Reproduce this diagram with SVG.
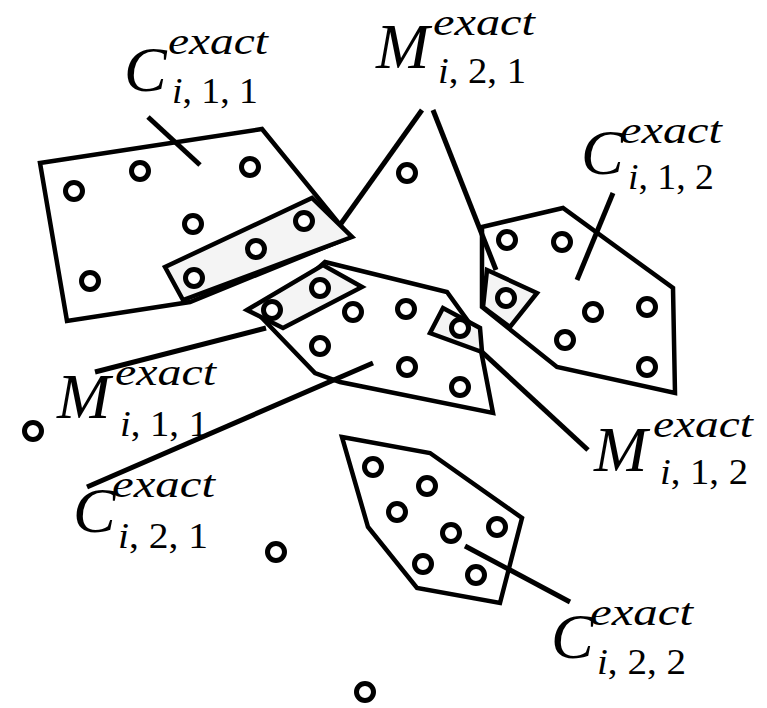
<svg xmlns="http://www.w3.org/2000/svg" width="767" height="708" viewBox="0 0 767 708">
<style>
.poly{fill:none;stroke:#000;stroke-width:4.5;stroke-linejoin:miter}
.gray{fill:#f4f4f4;stroke:#000;stroke-width:4.5}
.ln{stroke:#000;stroke-width:5;fill:none}
.dot{fill:#fff;stroke:#000;stroke-width:5}
.big{font-family:"Liberation Serif",serif;font-style:italic;font-size:64px;fill:#000}
.sup{font-family:"Liberation Serif",serif;font-style:italic;font-size:38px;fill:#000}
.sub{font-family:"Liberation Serif",serif;font-size:35px;fill:#000}
.it{font-style:italic}
</style>
<rect width="767" height="708" fill="#fff"/>
<g id="C111">
<polygon class="poly" points="40,163 262,129 350,237 190,302 67,321"/>
</g>
<g id="M211-rect">
<polygon class="gray" points="165,267 183,300 352,237 312,198"/>
</g>
<g id="C112">
<polygon class="poly" points="482,227 563,208 673,288 675,393 557,367 482,307"/>
<polygon class="gray" points="487,270 537,293 510,327 483,307"/>
</g>
<g id="Cmid">
<polygon class="poly" points="325,262 447,292 478,335 493,413 340,382 315,373 262,318"/>
<polygon class="gray" points="247,310 323,265 362,287 283,328"/>
<polygon class="gray" points="430,333 443,308 480,328 482,352"/>
</g>
<g id="C222">
<polygon class="poly" points="342,437 430,453 522,518 500,603 417,588 368,527"/>
</g>
<g id="connectors">
<line class="ln" x1="148" y1="117" x2="200" y2="165"/>
<line class="ln" x1="422" y1="110" x2="340" y2="225"/>
<line class="ln" x1="433" y1="110" x2="496" y2="270"/>
<line class="ln" x1="613" y1="193" x2="577" y2="280"/>
<line class="ln" x1="95" y1="372" x2="266" y2="328"/>
<line class="ln" x1="87" y1="487" x2="373" y2="363"/>
<line class="ln" x1="482" y1="352" x2="588" y2="450"/>
<line class="ln" x1="465" y1="546" x2="570" y2="602"/>
</g>
<g id="dots">
<circle class="dot" cx="74" cy="191" r="8.5"/>
<circle class="dot" cx="140" cy="171" r="8.5"/>
<circle class="dot" cx="250" cy="167" r="8.5"/>
<circle class="dot" cx="193" cy="224" r="8.5"/>
<circle class="dot" cx="90" cy="281" r="8.5"/>
<circle class="dot" cx="304" cy="221" r="8.5"/>
<circle class="dot" cx="256" cy="249" r="8.5"/>
<circle class="dot" cx="194" cy="278" r="8.5"/>
<circle class="dot" cx="407" cy="173" r="8.5"/>
<circle class="dot" cx="507" cy="240" r="8.5"/>
<circle class="dot" cx="562" cy="242" r="8.5"/>
<circle class="dot" cx="506" cy="298" r="8.5"/>
<circle class="dot" cx="593" cy="312" r="8.5"/>
<circle class="dot" cx="647" cy="307" r="8.5"/>
<circle class="dot" cx="565" cy="340" r="8.5"/>
<circle class="dot" cx="647" cy="367" r="8.5"/>
<circle class="dot" cx="320" cy="288" r="8.5"/>
<circle class="dot" cx="272" cy="310" r="8.5"/>
<circle class="dot" cx="353" cy="312" r="8.5"/>
<circle class="dot" cx="406" cy="309" r="8.5"/>
<circle class="dot" cx="320" cy="346" r="8.5"/>
<circle class="dot" cx="407" cy="367" r="8.5"/>
<circle class="dot" cx="460" cy="328" r="8.5"/>
<circle class="dot" cx="460" cy="387" r="8.5"/>
<circle class="dot" cx="373" cy="467" r="8.5"/>
<circle class="dot" cx="427" cy="486" r="8.5"/>
<circle class="dot" cx="397" cy="512" r="8.5"/>
<circle class="dot" cx="451" cy="533" r="8.5"/>
<circle class="dot" cx="497" cy="527" r="8.5"/>
<circle class="dot" cx="423" cy="564" r="8.5"/>
<circle class="dot" cx="476" cy="575" r="8.5"/>
<circle class="dot" cx="33" cy="431" r="8.5"/>
<circle class="dot" cx="276" cy="552" r="8.5"/>
<circle class="dot" cx="365" cy="692" r="8.5"/>
</g>
<g id="label-C111">
<text class="big" x="124" y="91">C</text>
<text class="sup" x="168" y="54" textLength="100" lengthAdjust="spacingAndGlyphs">exact</text>
<text class="sub" x="172" y="103" textLength="86" lengthAdjust="spacingAndGlyphs"><tspan class="it">i</tspan>, 1, 1</text>
</g>
<g id="label-M211">
<text class="big" x="376" y="68">M</text>
<text class="sup" x="433" y="35" textLength="102" lengthAdjust="spacingAndGlyphs">exact</text>
<text class="sub" x="438" y="83" textLength="88" lengthAdjust="spacingAndGlyphs"><tspan class="it">i</tspan>, 2, 1</text>
</g>
<g id="label-C112">
<text class="big" x="581" y="174">C</text>
<text class="sup" x="620" y="143" textLength="102" lengthAdjust="spacingAndGlyphs">exact</text>
<text class="sub" x="628" y="189" textLength="86" lengthAdjust="spacingAndGlyphs"><tspan class="it">i</tspan>, 1, 2</text>
</g>
<g id="label-M111">
<text class="big" x="57" y="418">M</text>
<text class="sup" x="115" y="385" textLength="101" lengthAdjust="spacingAndGlyphs">exact</text>
<text class="sub" x="120" y="436" textLength="88" lengthAdjust="spacingAndGlyphs"><tspan class="it">i</tspan>, 1, 1</text>
</g>
<g id="label-C221">
<text class="big" x="73" y="532">C</text>
<text class="sup" x="112" y="497" textLength="103" lengthAdjust="spacingAndGlyphs">exact</text>
<text class="sub" x="118" y="548" textLength="90" lengthAdjust="spacingAndGlyphs"><tspan class="it">i</tspan>, 2, 1</text>
</g>
<g id="label-M112">
<text class="big" x="594" y="471">M</text>
<text class="sup" x="653" y="437" textLength="100" lengthAdjust="spacingAndGlyphs">exact</text>
<text class="sub" x="660" y="484" textLength="88" lengthAdjust="spacingAndGlyphs"><tspan class="it">i</tspan>, 1, 2</text>
</g>
<g id="label-C222">
<text class="big" x="551" y="658">C</text>
<text class="sup" x="590" y="625" textLength="103" lengthAdjust="spacingAndGlyphs">exact</text>
<text class="sub" x="597" y="674" textLength="89" lengthAdjust="spacingAndGlyphs"><tspan class="it">i</tspan>, 2, 2</text>
</g>
</svg>
